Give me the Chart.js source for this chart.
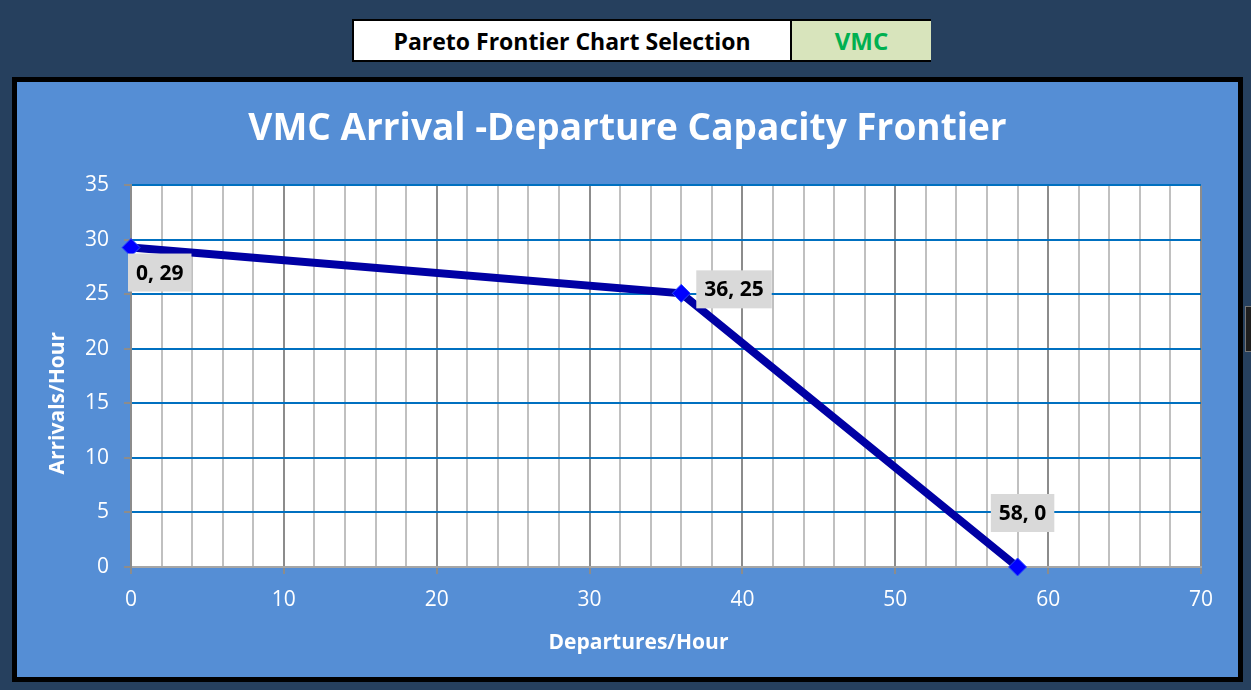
<!DOCTYPE html>
<html>
<head>
<meta charset="utf-8">
<script src="https://cdn.jsdelivr.net/npm/chart.js@4.4.1/dist/chart.umd.min.js"></script>
<style>
  html, body { margin: 0; padding: 0; }
  body {
    width: 1251px; height: 690px; overflow: hidden; position: relative;
    background: #26405e; font-family: 'Open Sans', sans-serif;
  }
  .sel {
    position: absolute; top: 19px; height: 43px; box-sizing: border-box;
    display: flex; align-items: center; justify-content: center;
    font-weight: bold; font-size: 23px;
  }
  #selLabel { left: 352px; width: 440px; background: #fff; border: 2px solid #000; color: #000; }
  #selValue { left: 792px; width: 139px; background: #d8e4bc; border-top: 2px solid #000; border-bottom: 2px solid #000; color: #00b050; font-size: 24px; }
  #frame {
    position: absolute; left: 12px; top: 77px; width: 1231px; height: 605px;
    box-sizing: border-box; border: 5px solid #000; background: #558ed5;
  }
  #wrap { position: absolute; left: 0; top: 0; width: 1221px; height: 595px; }
  #edge {
    position: absolute; left: 1245px; top: 306px; width: 8px; height: 46px;
    background: #1e1e1e; border: 1px solid #777; box-sizing: border-box;
  }
</style>
</head>
<body>
<div class="sel" id="selLabel">Pareto Frontier Chart Selection</div>
<div class="sel" id="selValue">VMC</div>
<div id="frame"><div id="wrap"><canvas id="chart"></canvas></div></div>
<div id="edge"></div>
<script>
const departures = [0, 36, 58];
const arrivals = [29.3, 25.1, 0];
const xTicks = { min: 0, max: 70, step: 2, labelEvery: 10 };
const yTicks = { min: 0, max: 35, step: 5 };
const xTitle = 'Departures/Hour';
const yTitle = 'Arrivals/Hour';

// where each data label sits relative to its point
const labelPlacement = ['below', 'right', 'above'];

const plotBackground = {
  id: 'plotBackground',
  beforeDraw: function (chart) {
    const { ctx, chartArea: { left, top, width, height } } = chart;
    ctx.save();
    ctx.fillStyle = '#ffffff';
    ctx.fillRect(left, top, width, height);
    ctx.restore();
  },
};

// axis titles, placed like the Excel chart (not centred on the plot area)
const axisTitles = {
  id: 'axisTitles',
  afterDraw: function (chart) {
    const { ctx, chartArea } = chart;
    ctx.save();
    ctx.font = "bold 21px 'Open Sans', sans-serif";
    ctx.fillStyle = '#ffffff';
    ctx.textAlign = 'center';
    ctx.textBaseline = 'middle';
    ctx.fillText(xTitle, chart.width / 2 + 11, chartArea.bottom + 76);
    ctx.translate(41, (chartArea.top + chartArea.bottom) / 2 + 27);
    ctx.rotate(-Math.PI / 2);
    ctx.fillText(yTitle, 0, 0);
    ctx.restore();
  },
};

const pointLabels = {
  id: 'pointLabels',
  afterDatasetsDraw: function (chart) {
    const ctx = chart.ctx;
    const meta = chart.getDatasetMeta(0);
    ctx.save();
    ctx.font = "bold 21px 'Open Sans', sans-serif";
    ctx.textAlign = 'center';
    ctx.textBaseline = 'middle';
    meta.data.forEach((pt, i) => {
      const text = departures[i] + ', ' + Math.round(arrivals[i]);
      const w = ctx.measureText(text).width + 16;
      const h = 38;
      let bx, by;
      if (labelPlacement[i] === 'below') {
        bx = pt.x - 3;
        by = pt.y + 6;
      } else if (labelPlacement[i] === 'right') {
        bx = pt.x + 15;
        by = pt.y - 23;
      } else {
        bx = pt.x + 5 - w / 2;
        by = pt.y - 35 - h;
      }
      ctx.fillStyle = '#d9d9d9';
      ctx.fillRect(bx, by, w, h);
      ctx.fillStyle = '#000000';
      ctx.fillText(text, bx + w / 2, by + h / 2 + 1);
    });
    ctx.restore();
  },
};

Chart.defaults.font.family = "'Open Sans', sans-serif";
Chart.defaults.color = '#ffffff';

const config = {
  type: 'scatter',
  data: {
    datasets: [
      {
        data: departures.map((d, i) => ({ x: d, y: arrivals[i] })),
        showLine: true,
        borderColor: '#0000a4',
        borderWidth: 8,
        pointStyle: 'rectRot',
        pointRadius: 9,
        pointBackgroundColor: '#0000ff',
        pointBorderColor: '#2a4cff',
        pointBorderWidth: 1,
        clip: false,
      },
    ],
  },
  options: {
    responsive: true,
    maintainAspectRatio: false,
    animation: false,
    layout: { padding: 0 },
    plugins: {
      legend: { display: false },
      tooltip: { enabled: false },
      title: {
        display: true,
        text: 'VMC Arrival -Departure Capacity Frontier',
        color: '#ffffff',
        font: { size: 37, weight: 'bold' },
        padding: { top: 25, bottom: 34 },
      },
    },
    scales: {
      x: {
        type: 'linear',
        min: xTicks.min,
        max: xTicks.max,
        afterFit: (scale) => { scale.height = 110; },
        ticks: {
          stepSize: xTicks.step,
          autoSkip: false,
          maxRotation: 0,
          padding: 13,
          font: { size: 21 },
          callback: (v) => (v % xTicks.labelEvery === 0 ? v : ''),
        },
        grid: {
          lineWidth: 2,
          tickLength: 7,
          color: (c) => (c.tick && c.tick.value % xTicks.labelEvery === 0 ? '#8c8c8c' : '#c0c0c0'),
          tickColor: (c) => (c.tick && c.tick.value % xTicks.labelEvery === 0 ? '#8c8c8c' : 'rgba(0,0,0,0)'),
        },
        border: { display: true, color: '#a6a6a6', width: 2 },
      },
      y: {
        type: 'linear',
        min: yTicks.min,
        max: yTicks.max,
        afterFit: (scale) => { scale.width = 114; },
        ticks: {
          stepSize: yTicks.step,
          padding: 15,
          font: { size: 21 },
        },
        grid: {
          lineWidth: 2,
          tickLength: 7,
          color: '#0070c0',
          tickColor: '#8c8c8c',
        },
        border: { display: true, color: '#8c8c8c', width: 2 },
      },
      // empty right-hand box so the plot ends where the original does
      spacer: {
        type: 'linear',
        position: 'right',
        afterFit: (scale) => { scale.width = 37; },
        ticks: { display: false },
        grid: { display: false },
        border: { display: false },
      },
    },
  },
  plugins: [plotBackground, axisTitles, pointLabels],
};

new Chart(document.getElementById('chart').getContext('2d'), config);
</script>
</body>
</html>
